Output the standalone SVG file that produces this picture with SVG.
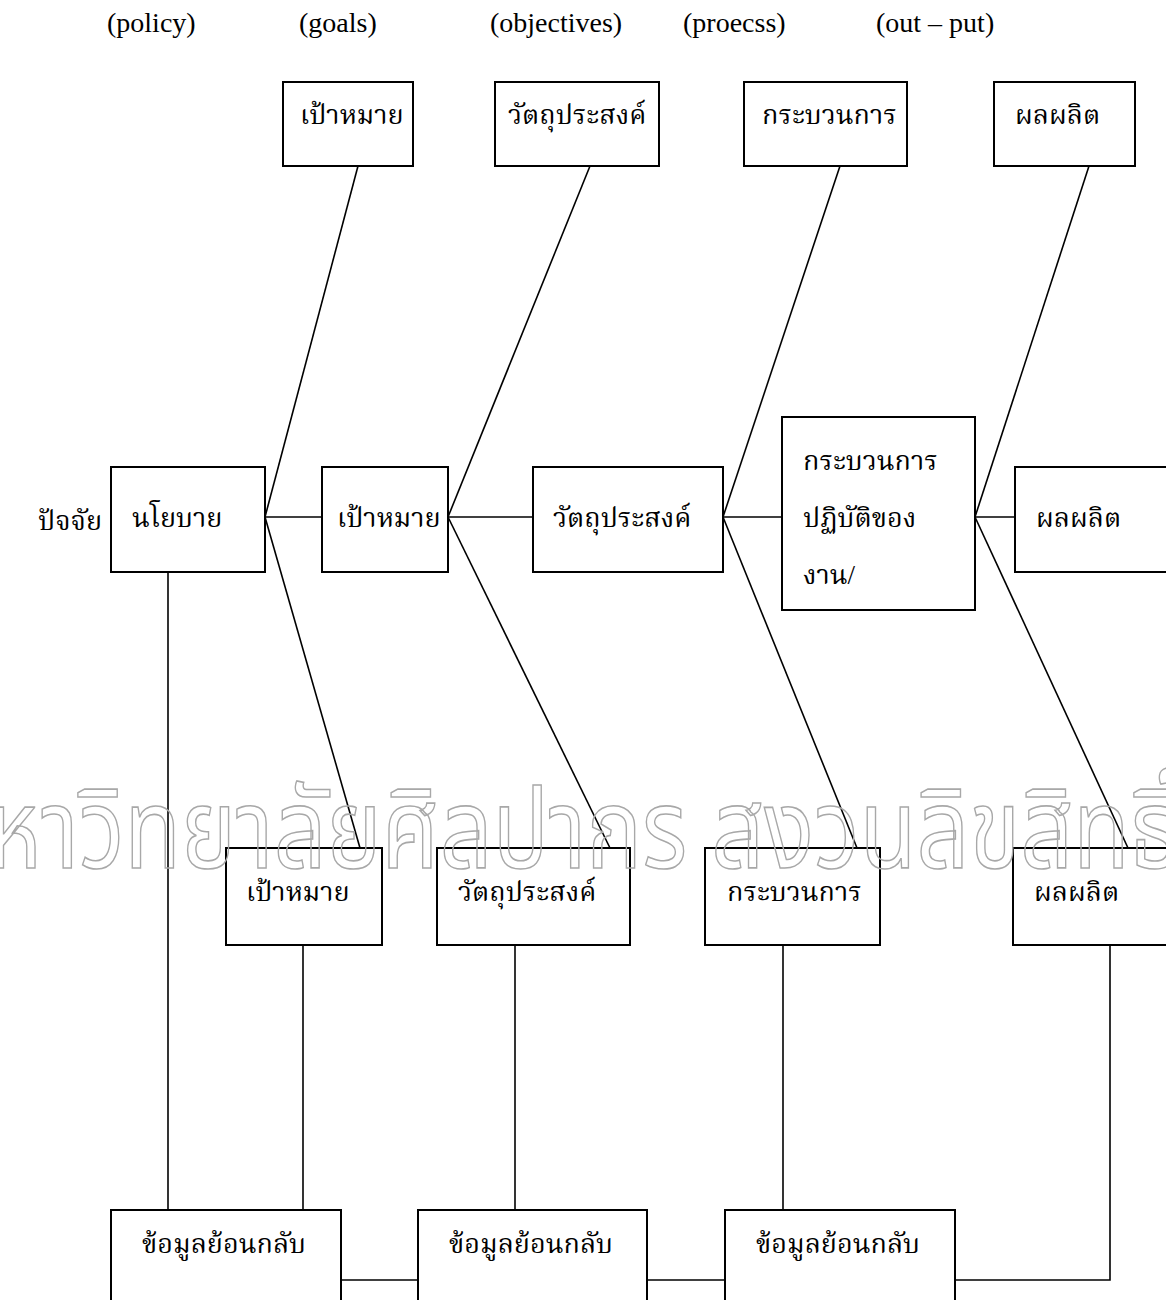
<svg xmlns="http://www.w3.org/2000/svg" width="1166" height="1300" viewBox="0 0 1166 1300">
  <style>
    .box { fill: #ffffff; stroke: #000000; stroke-width: 2; }
    .ln { fill: none; stroke: #000000; stroke-width: 1.6; }
    .lbl { font-family: "Liberation Serif", "Noto Serif Thai", "Noto Sans Thai", serif; font-size: 27px; fill: #000000; }
    .en { font-family: "Liberation Serif", serif; font-size: 28px; fill: #000000; }
    .wm { font-family: "Noto Sans Thai", "Noto Serif Thai", "Liberation Sans", sans-serif; font-size: 110px; fill: none; stroke: #a8a8a8; stroke-width: 1.6; }
  </style>
  <rect width="1166" height="1300" fill="#ffffff"/>

  <!-- column headings -->
  <g id="headings">
    <text class="en" x="107" y="32">(policy)</text>
    <text class="en" x="299" y="32">(goals)</text>
    <text class="en" x="490" y="32">(objectives)</text>
    <text class="en" x="683" y="32">(proecss)</text>
    <text class="en" x="876" y="32">(out – put)</text>
  </g>

  <text id="factor" class="lbl" x="38" y="530">ปัจจัย</text>

  <!-- connectors -->
  <g id="connectors">
    <!-- upper branches -->
    <line class="ln" x1="358" y1="166" x2="265" y2="517"/>
    <line class="ln" x1="590" y1="166" x2="448" y2="517"/>
    <line class="ln" x1="840" y1="166" x2="723" y2="517"/>
    <line class="ln" x1="1089" y1="166" x2="975" y2="517"/>
    <!-- main spine -->
    <line class="ln" x1="265" y1="517" x2="322" y2="517"/>
    <line class="ln" x1="448" y1="517" x2="533" y2="517"/>
    <line class="ln" x1="723" y1="517" x2="782" y2="517"/>
    <line class="ln" x1="975" y1="517" x2="1015" y2="517"/>
    <!-- lower branches -->
    <line class="ln" x1="265" y1="517" x2="360" y2="848"/>
    <line class="ln" x1="448" y1="517" x2="610" y2="848"/>
    <line class="ln" x1="723" y1="517" x2="857" y2="848"/>
    <line class="ln" x1="975" y1="517" x2="1128" y2="848"/>
    <!-- drops to feedback -->
    <line class="ln" x1="168" y1="572" x2="168" y2="1210"/>
    <line class="ln" x1="303" y1="945" x2="303" y2="1210"/>
    <line class="ln" x1="515" y1="945" x2="515" y2="1210"/>
    <line class="ln" x1="783" y1="945" x2="783" y2="1210"/>
    <polyline class="ln" points="1110,945 1110,1280 955,1280"/>
    <!-- feedback links -->
    <line class="ln" x1="341" y1="1280" x2="418" y2="1280"/>
    <line class="ln" x1="647" y1="1280" x2="725" y2="1280"/>
  </g>

  <!-- top row -->
  <g id="top-goals"><rect class="box" x="283" y="82" width="130" height="84"/><text class="lbl" x="300" y="124">เป้าหมาย</text></g>
  <g id="top-objectives"><rect class="box" x="495" y="82" width="164" height="84"/><text class="lbl" x="508" y="124">วัตถุประสงค์</text></g>
  <g id="top-process"><rect class="box" x="744" y="82" width="163" height="84"/><text class="lbl" x="762" y="124">กระบวนการ</text></g>
  <g id="top-output"><rect class="box" x="994" y="82" width="141" height="84"/><text class="lbl" x="1015" y="124">ผลผลิต</text></g>

  <!-- middle row -->
  <g id="mid-policy"><rect class="box" x="111" y="467" width="154" height="105"/><text class="lbl" x="132" y="527">นโยบาย</text></g>
  <g id="mid-goals"><rect class="box" x="322" y="467" width="126" height="105"/><text class="lbl" x="337" y="527">เป้าหมาย</text></g>
  <g id="mid-objectives"><rect class="box" x="533" y="467" width="190" height="105"/><text class="lbl" x="553" y="527">วัตถุประสงค์</text></g>
  <g id="mid-process"><rect class="box" x="782" y="417" width="193" height="193"/>
    <text class="lbl" x="803" y="470">กระบวนการ</text>
    <text class="lbl" x="803" y="527">ปฏิบัติของ</text>
    <text class="lbl" x="803" y="584">งาน/</text>
  </g>
  <g id="mid-output"><rect class="box" x="1015" y="467" width="160" height="105"/><text class="lbl" x="1036" y="527">ผลผลิต</text></g>

  <!-- lower row -->
  <g id="low-goals"><rect class="box" x="226" y="848" width="156" height="97"/><text class="lbl" x="246" y="901">เป้าหมาย</text></g>
  <g id="low-objectives"><rect class="box" x="437" y="848" width="193" height="97"/><text class="lbl" x="458" y="901">วัตถุประสงค์</text></g>
  <g id="low-process"><rect class="box" x="705" y="848" width="175" height="97"/><text class="lbl" x="727" y="901">กระบวนการ</text></g>
  <g id="low-output"><rect class="box" x="1013" y="848" width="165" height="97"/><text class="lbl" x="1034" y="901">ผลผลิต</text></g>

  <!-- feedback row -->
  <g id="fb-1"><rect class="box" x="111" y="1210" width="230" height="110"/><text class="lbl" x="142" y="1253">ข้อมูลย้อนกลับ</text></g>
  <g id="fb-2"><rect class="box" x="418" y="1210" width="229" height="110"/><text class="lbl" x="449" y="1253">ข้อมูลย้อนกลับ</text></g>
  <g id="fb-3"><rect class="box" x="725" y="1210" width="230" height="110"/><text class="lbl" x="756" y="1253">ข้อมูลย้อนกลับ</text></g>

  <!-- outlined watermark -->
  <text class="wm" x="-70" y="868" textLength="1250" lengthAdjust="spacingAndGlyphs">มหาวิทยาลัยศิลปากร สงวนลิขสิทธิ์</text>
</svg>
